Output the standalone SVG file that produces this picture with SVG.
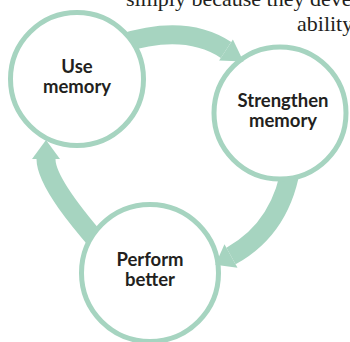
<svg xmlns="http://www.w3.org/2000/svg" width="350" height="342" viewBox="0 0 350 342">
<style>
.node{fill:#ffffff;stroke:#a6d4c0;stroke-width:5}
.shaft{fill:none;stroke:#a6d4c0;stroke-width:19;stroke-linecap:butt}
.head{fill:#a6d4c0;stroke:none}
.lbl{font-family:Lato,"Open Sans","Liberation Sans",sans-serif;font-weight:700;font-size:18.5px;fill:#231f20;text-anchor:middle}
.body{font-family:"Liberation Serif","DejaVu Serif",serif;font-size:22px;fill:#231f20}
</style>
<rect width="350" height="342" fill="#ffffff"/>
<text class="body" x="126" y="6">simply because they deve</text>
<text class="body" x="297" y="31">ability</text>
<g id="connectors-shafts">
<path class="shaft" d="M120,44 Q185,23 226,50"/>
<path class="shaft" d="M292,160 Q283.5,227 231,256"/>
<path class="shaft" d="M102,247 C89,231.8 46,184 46,159"/>
</g>
<g id="use-memory">
<circle class="node" cx="77" cy="79" r="66.5"/>
<text class="lbl" x="77" y="73">Use</text>
<text class="lbl" x="77" y="93">memory</text>
</g>
<g id="strengthen-memory">
<circle class="node" cx="280" cy="113" r="66"/>
<text class="lbl" x="283" y="107">Strengthen</text>
<text class="lbl" x="283" y="127">memory</text>
</g>
<g id="perform-better">
<circle class="node" cx="150" cy="273" r="68.5"/>
<text class="lbl" x="150" y="266">Perform</text>
<text class="lbl" x="150" y="286">better</text>
</g>
<g id="connectors-heads">
<polygon class="head" points="219.1,60.4 232.9,39.6 243.5,61.6"/>
<polygon class="head" points="237.5,267.7 224.5,244.3 215.3,264.7"/>
<polygon class="head" points="32,159 60,159 46,140"/>
</g>
</svg>
